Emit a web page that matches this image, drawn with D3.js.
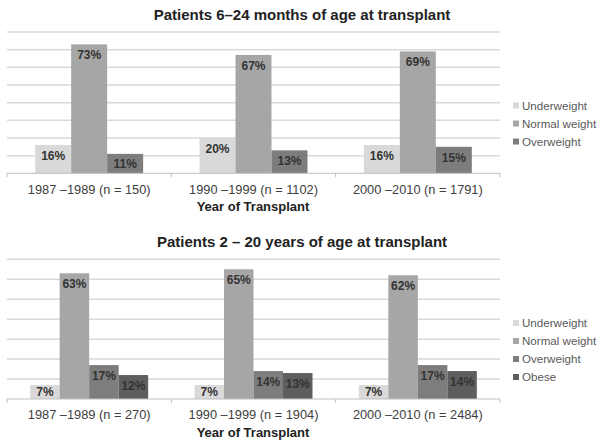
<!DOCTYPE html>
<html><head><meta charset="utf-8">
<script src="https://cdn.jsdelivr.net/npm/d3@7"></script>
<style>body{margin:0;background:#fff;} svg{display:block;font-family:"Liberation Sans",Arial,sans-serif;}</style>
</head><body>
<svg id="c" width="604" height="447"></svg>
<script>
const topTitle = "Patients 6\u201324 months of age at transplant";
const topCategories = ["1987 \u20131989 (n = 150)", "1990 \u20131999 (n = 1102)", "2000 \u20132010 (n = 1791)"];
const topSeries = ["Underweight", "Normal weight", "Overweight"];
const topUnderweight = [16, 20, 16];
const topNormal = [73, 67, 69];
const topOverweight = [11, 13, 15];
const topTicks = [0, 10, 20, 30, 40, 50, 60, 70, 80];

const botTitle = "Patients 2 \u2013 20 years of age at transplant";
const botCategories = ["1987 \u20131989 (n = 270)", "1990 \u20131999 (n = 1904)", "2000 \u20132010 (n = 2484)"];
const botSeries = ["Underweight", "Normal weight", "Overweight", "Obese"];
const botUnderweight = [7, 7, 7];
const botNormal = [63, 65, 62];
const botOverweight = [17, 14, 17];
const botObese = [12, 13, 14];
const botTicks = [0, 10, 20, 30, 40, 50, 60, 70];

const xAxisTitle = "Year of Transplant";
const colors = {"Underweight":"#d9d9d9","Normal weight":"#a6a6a6","Overweight":"#7d7d7d","Obese":"#5e5e5e"};

const svg = d3.select("#c");

function panel(cfg){
  const g = svg.append("g");
  const y = d3.scaleLinear().domain([0, d3.max(cfg.ticks)]).range([cfg.y0, cfg.y1]);
  const x = d3.scaleBand().domain(cfg.categories).range([7, 500]).paddingInner(cfg.pad).paddingOuter(cfg.pad/2);
  const xs = d3.scaleBand().domain(cfg.series).range([0, x.bandwidth()]);
  // gridlines
  g.selectAll("line.grid").data(cfg.ticks.slice(1)).join("line")
    .attr("x1", 7).attr("x2", 500)
    .attr("y1", d => y(d)).attr("y2", d => y(d))
    .attr("stroke", "#d9d9d9").attr("stroke-width", 1.5);
  // title
  g.append("text").attr("x", 302).attr("y", cfg.titleY).attr("text-anchor", "middle")
    .attr("font-weight", "bold").attr("font-size", 15).attr("fill", "#222").text(cfg.title);
  // bars
  const rows = [];
  cfg.categories.forEach((c, i) => cfg.series.forEach((s, j) => rows.push({c, s, v: cfg.values[j][i]})));
  g.selectAll("rect.bar").data(rows).join("rect")
    .attr("x", d => x(d.c) + xs(d.s)).attr("width", xs.bandwidth())
    .attr("y", d => y(d.v)).attr("height", d => y(0) - y(d.v))
    .attr("fill", d => colors[d.s]);
  g.selectAll("text.lab").data(rows).join("text")
    .attr("x", d => x(d.c) + xs(d.s) + xs.bandwidth()/2)
    .attr("y", d => Math.min(y(d.v) + 11, (y(d.v) + y(0))/2) + 4)
    .attr("text-anchor", "middle").attr("font-size", 12).attr("font-weight", "bold")
    .attr("fill", "#333").text(d => d.v + "%");
  // axis
  const ax = g.append("g").attr("transform", `translate(0,${y(0)})`);
  ax.append("line").attr("x1", 7).attr("x2", 500).attr("stroke", "#bfbfbf").attr("stroke-width", 1);
  const bounds = [7].concat(cfg.categories.map(c => x(c) + x.bandwidth() + x.step()*cfg.pad/2));
  ax.selectAll("line.tk").data(bounds).join("line")
    .attr("x1", d => d).attr("x2", d => d).attr("y1", 0).attr("y2", 4)
    .attr("stroke", "#bfbfbf");
  ax.selectAll("text.cat").data(cfg.categories).join("text")
    .attr("x", d => x(d) + x.bandwidth()/2).attr("y", cfg.catDy)
    .attr("text-anchor", "middle").attr("font-size", 12.8).attr("fill", "#404040").text(d => d);
  g.append("text").attr("x", 253).attr("y", cfg.axTitleY).attr("text-anchor", "middle")
    .attr("font-weight", "bold").attr("font-size", 13).attr("fill", "#222").text(xAxisTitle);
  // legend
  const lg = g.selectAll("g.leg").data(cfg.series).join("g")
    .attr("transform", (d, i) => `translate(513,${cfg.legY + i*18})`);
  lg.append("rect").attr("x", 0).attr("y", -3).attr("width", 6).attr("height", 6).attr("fill", d => colors[d]);
  lg.append("text").attr("x", 9).attr("y", 4).attr("font-size", 11.6).attr("fill", "#595959").text(d => d);
}

panel({title: topTitle, categories: topCategories, series: topSeries,
  values: [topUnderweight, topNormal, topOverweight], ticks: topTicks,
  y0: 173.3, y1: 32, pad: 0.343, titleY: 20, catDy: 21, axTitleY: 211, legY: 105.5});
panel({title: botTitle, categories: botCategories, series: botSeries,
  values: [botUnderweight, botNormal, botOverweight, botObese], ticks: botTicks,
  y0: 399, y1: 259.3, pad: 0.282, titleY: 247, catDy: 20, axTitleY: 437, legY: 323});
</script>
</body></html>
